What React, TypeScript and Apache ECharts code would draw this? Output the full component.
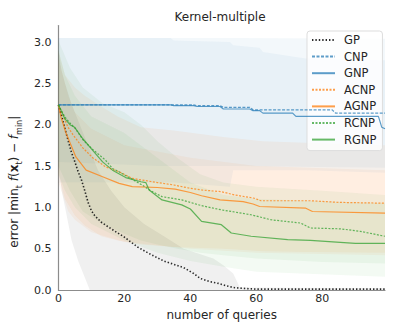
import React, { useEffect, useRef } from 'react';
import * as echarts from 'echarts';

// ---- mean curves (x = number of queries, y = error) ----
const gpX = [0, 1, 2, 3, 4, 5, 6, 7, 8, 9, 10, 11, 13, 16, 20, 24, 28, 32, 35, 38, 41, 43, 46, 48.5, 51, 53, 56, 60, 99];
const gpY = [2.24, 2.1, 1.95, 1.8, 1.66, 1.55, 1.43, 1.33, 1.2, 1.06, 0.96, 0.9, 0.82, 0.74, 0.64, 0.52, 0.43, 0.35, 0.31, 0.27, 0.2, 0.14, 0.1, 0.08, 0.05, 0.03, 0.02, 0.01, 0.01];

const cnpX = [0, 34, 35, 41, 42, 49, 50, 58, 59, 83, 84, 99];
const cnpY = [2.24, 2.24, 2.24, 2.24, 2.23, 2.23, 2.21, 2.21, 2.18, 2.18, 2.14, 2.14];

const gnpX = [0, 34, 35, 41, 42, 49, 50, 58, 59, 61, 62, 71, 72, 97, 98, 99];
const gnpY = [2.24, 2.24, 2.23, 2.23, 2.22, 2.22, 2.19, 2.19, 2.17, 2.17, 2.14, 2.14, 2.1, 2.1, 1.97, 1.95];

const acnpX = [0, 2.9, 4.4, 7.4, 10.4, 14.3, 18.4, 22.4, 25.4, 30, 35, 40, 43.4, 49.4, 53.4, 59.4, 61.4, 76.4, 85, 99];
const acnpY = [2.24, 1.97, 1.88, 1.72, 1.6, 1.49, 1.43, 1.35, 1.33, 1.3, 1.27, 1.23, 1.21, 1.19, 1.15, 1.11, 1.08, 1.08, 1.06, 1.05];

const agnpX = [0, 0.8, 2.3, 5.3, 8.4, 13.4, 18.4, 22.4, 30, 35.4, 40, 43.4, 49, 56, 59, 61, 75, 77, 99];
const agnpY = [2.24, 2.09, 1.9, 1.61, 1.45, 1.37, 1.29, 1.25, 1.24, 1.22, 1.18, 1.14, 1.09, 1.07, 1.04, 1.01, 0.99, 0.95, 0.93];

const rcnpX = [0, 2, 3.5, 5, 7.4, 10.4, 14.3, 16.4, 18.4, 22.4, 25.4, 28, 31.4, 37.4, 43.4, 49.4, 58.4, 64.4, 73.4, 76.4, 85.5, 91.5, 99];
const rcnpY = [2.24, 2.09, 2.02, 1.96, 1.82, 1.7, 1.57, 1.47, 1.43, 1.34, 1.27, 1.2, 1.13, 1.09, 1.02, 0.97, 0.91, 0.85, 0.81, 0.75, 0.74, 0.71, 0.65];

const rgnpX = [0, 2, 3.5, 4.9, 7.4, 10.4, 13.4, 16.4, 20.4, 25, 26.5, 27.5, 31.4, 37.4, 40, 43.4, 49.4, 52.4, 58.4, 69.5, 76.4, 90, 99];
const rgnpY = [2.24, 2.07, 2.0, 1.97, 1.83, 1.69, 1.55, 1.45, 1.36, 1.31, 1.3, 1.21, 1.09, 1.03, 0.98, 0.83, 0.79, 0.69, 0.65, 0.61, 0.6, 0.565, 0.565];

// ---- uncertainty bands ----
const gpBandX = [0, 1, 2, 4, 6, 8, 9.5, 12, 16, 20, 26, 32, 38, 44, 47, 50, 53, 55, 99];
const gpLow = [1.5, 1.2, 1.0, 0.6, 0.35, 0.15, 0, 0, 0, 0, 0, 0, 0, 0, 0, 0, 0, 0, 0];
const gpUp = [2.9, 2.65, 2.5, 2.25, 2.05, 1.85, 1.7, 1.45, 1.2, 1.0, 0.8, 0.65, 0.5, 0.42, 0.38, 0.3, 0.2, 0.03, 0.02];

const cnpBandX = [0, 30, 53, 99];
const cnpLow = [1.55, 1.5, 1.5, 1.48];
const cnpUp = [3.05, 3.05, 3.05, 3.04];

const gnpBandX = [0, 34, 35, 52, 53, 61, 62, 75, 99];
const gnpLow = [1.3, 1.3, 1.3, 1.25, 1.45, 1.45, 1.45, 1.45, 1.42];
const gnpUp = [3.05, 3.05, 3.02, 3.0, 2.96, 2.93, 2.88, 2.8, 2.78];

const acnpBandX = [0, 2, 5, 8, 13, 18, 25, 35, 50, 62, 75, 99];
const acnpLow = [1.4, 1.1, 0.9, 0.78, 0.65, 0.6, 0.55, 0.52, 0.5, 0.47, 0.46, 0.45];
const acnpUp = [2.9, 2.6, 2.45, 2.35, 2.22, 2.1, 1.97, 1.93, 1.85, 1.8, 1.78, 1.75];

const agnpBandX = [0, 3, 5, 10, 20, 40, 60, 99];
const agnpLow = [1.3, 0.95, 0.85, 0.7, 0.58, 0.5, 0.45, 0.42];
const agnpUp = [2.8, 2.35, 2.15, 1.95, 1.75, 1.6, 1.5, 1.45];

const rcnpBandX = [0, 3.5, 7.4, 13.4, 20, 25, 30, 36, 43, 50, 60, 80, 99];
const rcnpLow = [1.5, 1.2, 0.95, 0.8, 0.68, 0.6, 0.55, 0.5, 0.45, 0.42, 0.38, 0.34, 0.32];
const rcnpUp = [3.02, 2.69, 2.45, 2.26, 2.15, 2.0, 1.8, 1.6, 1.4, 1.3, 1.25, 1.2, 1.15];

const rgnpBandX = [0, 2, 5, 10, 20, 30, 40, 50, 60, 99];
const rgnpLow = [1.4, 1.2, 1.0, 0.8, 0.6, 0.45, 0.35, 0.28, 0.22, 0.16];
const rgnpUp = [2.9, 2.6, 2.35, 2.1, 1.9, 1.6, 1.3, 1.15, 1.1, 1.05];

const legendNames = ['GP', 'CNP', 'GNP', 'ACNP', 'AGNP', 'RCNP', 'RGNP'];
const xTicks = { min: 0, max: 99, interval: 20 };
const yTicks = { min: 0, max: 3.2, interval: 0.5 };

const FONT = 'DejaVu Sans';
const TEXT = '#262626';
const BLUE = 'rgba(31,119,180,0.72)';
const ORANGE = 'rgba(255,127,14,0.75)';
const GREEN = 'rgba(44,160,44,0.72)';
const GPC = 'rgba(20,20,20,0.9)';

const pairs = (xs: number[], ys: number[]) => xs.map((x, i) => [x, ys[i]]);

function lineSeries(name: string, xs: number[], ys: number[], color: string, type: any, width = 1.2) {
  return {
    type: 'line',
    name,
    data: pairs(xs, ys),
    symbol: 'none',
    showSymbol: false,
    clip: true,
    z: 5,
    lineStyle: { color, width, type },
    itemStyle: { color },
    emphasis: { disabled: true },
  };
}

function bandSeries(id: string, xs: number[], lo: number[], up: number[], fill: string) {
  return {
    type: 'custom',
    name: id,
    silent: true,
    clip: true,
    z: 1,
    data: [[0, 0]],
    renderItem: (_params: any, api: any) => {
      const pts: number[][] = [];
      for (let i = 0; i < xs.length; i++) pts.push(api.coord([xs[i], up[i]]));
      for (let i = xs.length - 1; i >= 0; i--) pts.push(api.coord([xs[i], lo[i]]));
      return { type: 'polygon', shape: { points: pts }, style: { fill, stroke: 'none' } };
    },
  };
}

export default function App() {
  const ref = useRef<HTMLDivElement>(null);
  useEffect(() => {
    const chart = echarts.init(ref.current!, undefined, { renderer: 'svg' });
    const option: any = {
      animation: false,
      backgroundColor: '#ffffff',
      textStyle: { fontFamily: FONT },
      grid: { left: 55.5, right: 14, top: 25.5, bottom: 42, containLabel: false },
      graphic: [
        {
          type: 'text',
          x: 220,
          y: 17,
          style: { text: 'Kernel-multiple', font: `12px "${FONT}"`, fill: TEXT, textAlign: 'center', textVerticalAlign: 'middle' },
        },
      ],
      legend: {
        data: legendNames,
        orient: 'vertical',
        left: 307,
        top: 31,
        itemWidth: 23,
        itemHeight: 13,
        itemGap: 4.6,
        padding: [3, 6, 5, 4],
        backgroundColor: 'rgba(255,255,255,0.8)',
        borderColor: '#dddddd',
        borderWidth: 1,
        borderRadius: 3,
        selectedMode: false,
        itemStyle: { opacity: 0 },
        textStyle: { fontFamily: FONT, fontSize: 11.5, color: TEXT, padding: [0, 0, 0, 4] },
      },
      xAxis: {
        type: 'value',
        min: xTicks.min,
        max: xTicks.max,
        interval: xTicks.interval,
        name: 'number of queries',
        nameLocation: 'middle',
        nameGap: 16,
        nameTextStyle: { fontFamily: FONT, fontSize: 12, color: TEXT },
        axisLine: { show: true, lineStyle: { color: '#8c8c8c', width: 1.2 } },
        axisTick: { show: false },
        splitLine: { show: false },
        axisLabel: { showMaxLabel: false, fontFamily: FONT, fontSize: 11, color: TEXT, margin: 3 },
      },
      yAxis: {
        type: 'value',
        min: yTicks.min,
        max: yTicks.max,
        interval: yTicks.interval,
        name: '{a|error |min}{s|t}{a| }{i|f}{a|(}{b|x}{s|t}{a|) − }{i|f}{s|min}{a||}',
        nameLocation: 'middle',
        nameRotate: 90,
        nameGap: 26,
        nameTextStyle: {
          padding: [0, 48, 0, 0],
          rich: {
            a: { fontFamily: FONT, fontSize: 12, color: TEXT, lineHeight: 18 },
            i: { fontFamily: FONT, fontSize: 12, color: TEXT, lineHeight: 18, fontStyle: 'italic' },
            b: { fontFamily: FONT, fontSize: 12, color: TEXT, lineHeight: 18, fontWeight: 'bold' },
            s: { fontFamily: FONT, fontSize: 8, color: TEXT, lineHeight: 10, verticalAlign: 'bottom' },
          },
        },
        axisLine: { show: true, lineStyle: { color: '#8c8c8c', width: 1.2 } },
        axisTick: { show: false },
        splitLine: { show: false },
        axisLabel: {
          showMaxLabel: false,
          fontFamily: FONT,
          fontSize: 11,
          color: TEXT,
          margin: 7,
          formatter: (v: number) => v.toFixed(1),
        },
      },
      series: [
        bandSeries('gp-band', gpBandX, gpLow, gpUp, 'rgba(0,0,0,0.06)'),
        bandSeries('cnp-band', cnpBandX, cnpLow, cnpUp, 'rgba(31,119,180,0.055)'),
        bandSeries('gnp-band', gnpBandX, gnpLow, gnpUp, 'rgba(31,119,180,0.05)'),
        bandSeries('acnp-band', acnpBandX, acnpLow, acnpUp, 'rgba(255,127,14,0.065)'),
        bandSeries('agnp-band', agnpBandX, agnpLow, agnpUp, 'rgba(255,127,14,0.06)'),
        bandSeries('rcnp-band', rcnpBandX, rcnpLow, rcnpUp, 'rgba(44,160,44,0.06)'),
        bandSeries('rgnp-band', rgnpBandX, rgnpLow, rgnpUp, 'rgba(44,160,44,0.055)'),
        lineSeries('GP', gpX, gpY, GPC, [1.4, 2], 1.6),
        lineSeries('CNP', cnpX, cnpY, BLUE, [3, 1.5]),
        lineSeries('GNP', gnpX, gnpY, BLUE, 'solid'),
        lineSeries('ACNP', acnpX, acnpY, ORANGE, [2, 1.5]),
        lineSeries('AGNP', agnpX, agnpY, ORANGE, 'solid'),
        lineSeries('RCNP', rcnpX, rcnpY, GREEN, [2, 1.5]),
        lineSeries('RGNP', rgnpX, rgnpY, GREEN, 'solid'),
      ],
    };
    chart.setOption(option);
    return () => chart.dispose();
  }, []);
  return <div ref={ref} style={{ position: 'fixed', left: 0, top: 0, width: 399, height: 332 }} />;
}
